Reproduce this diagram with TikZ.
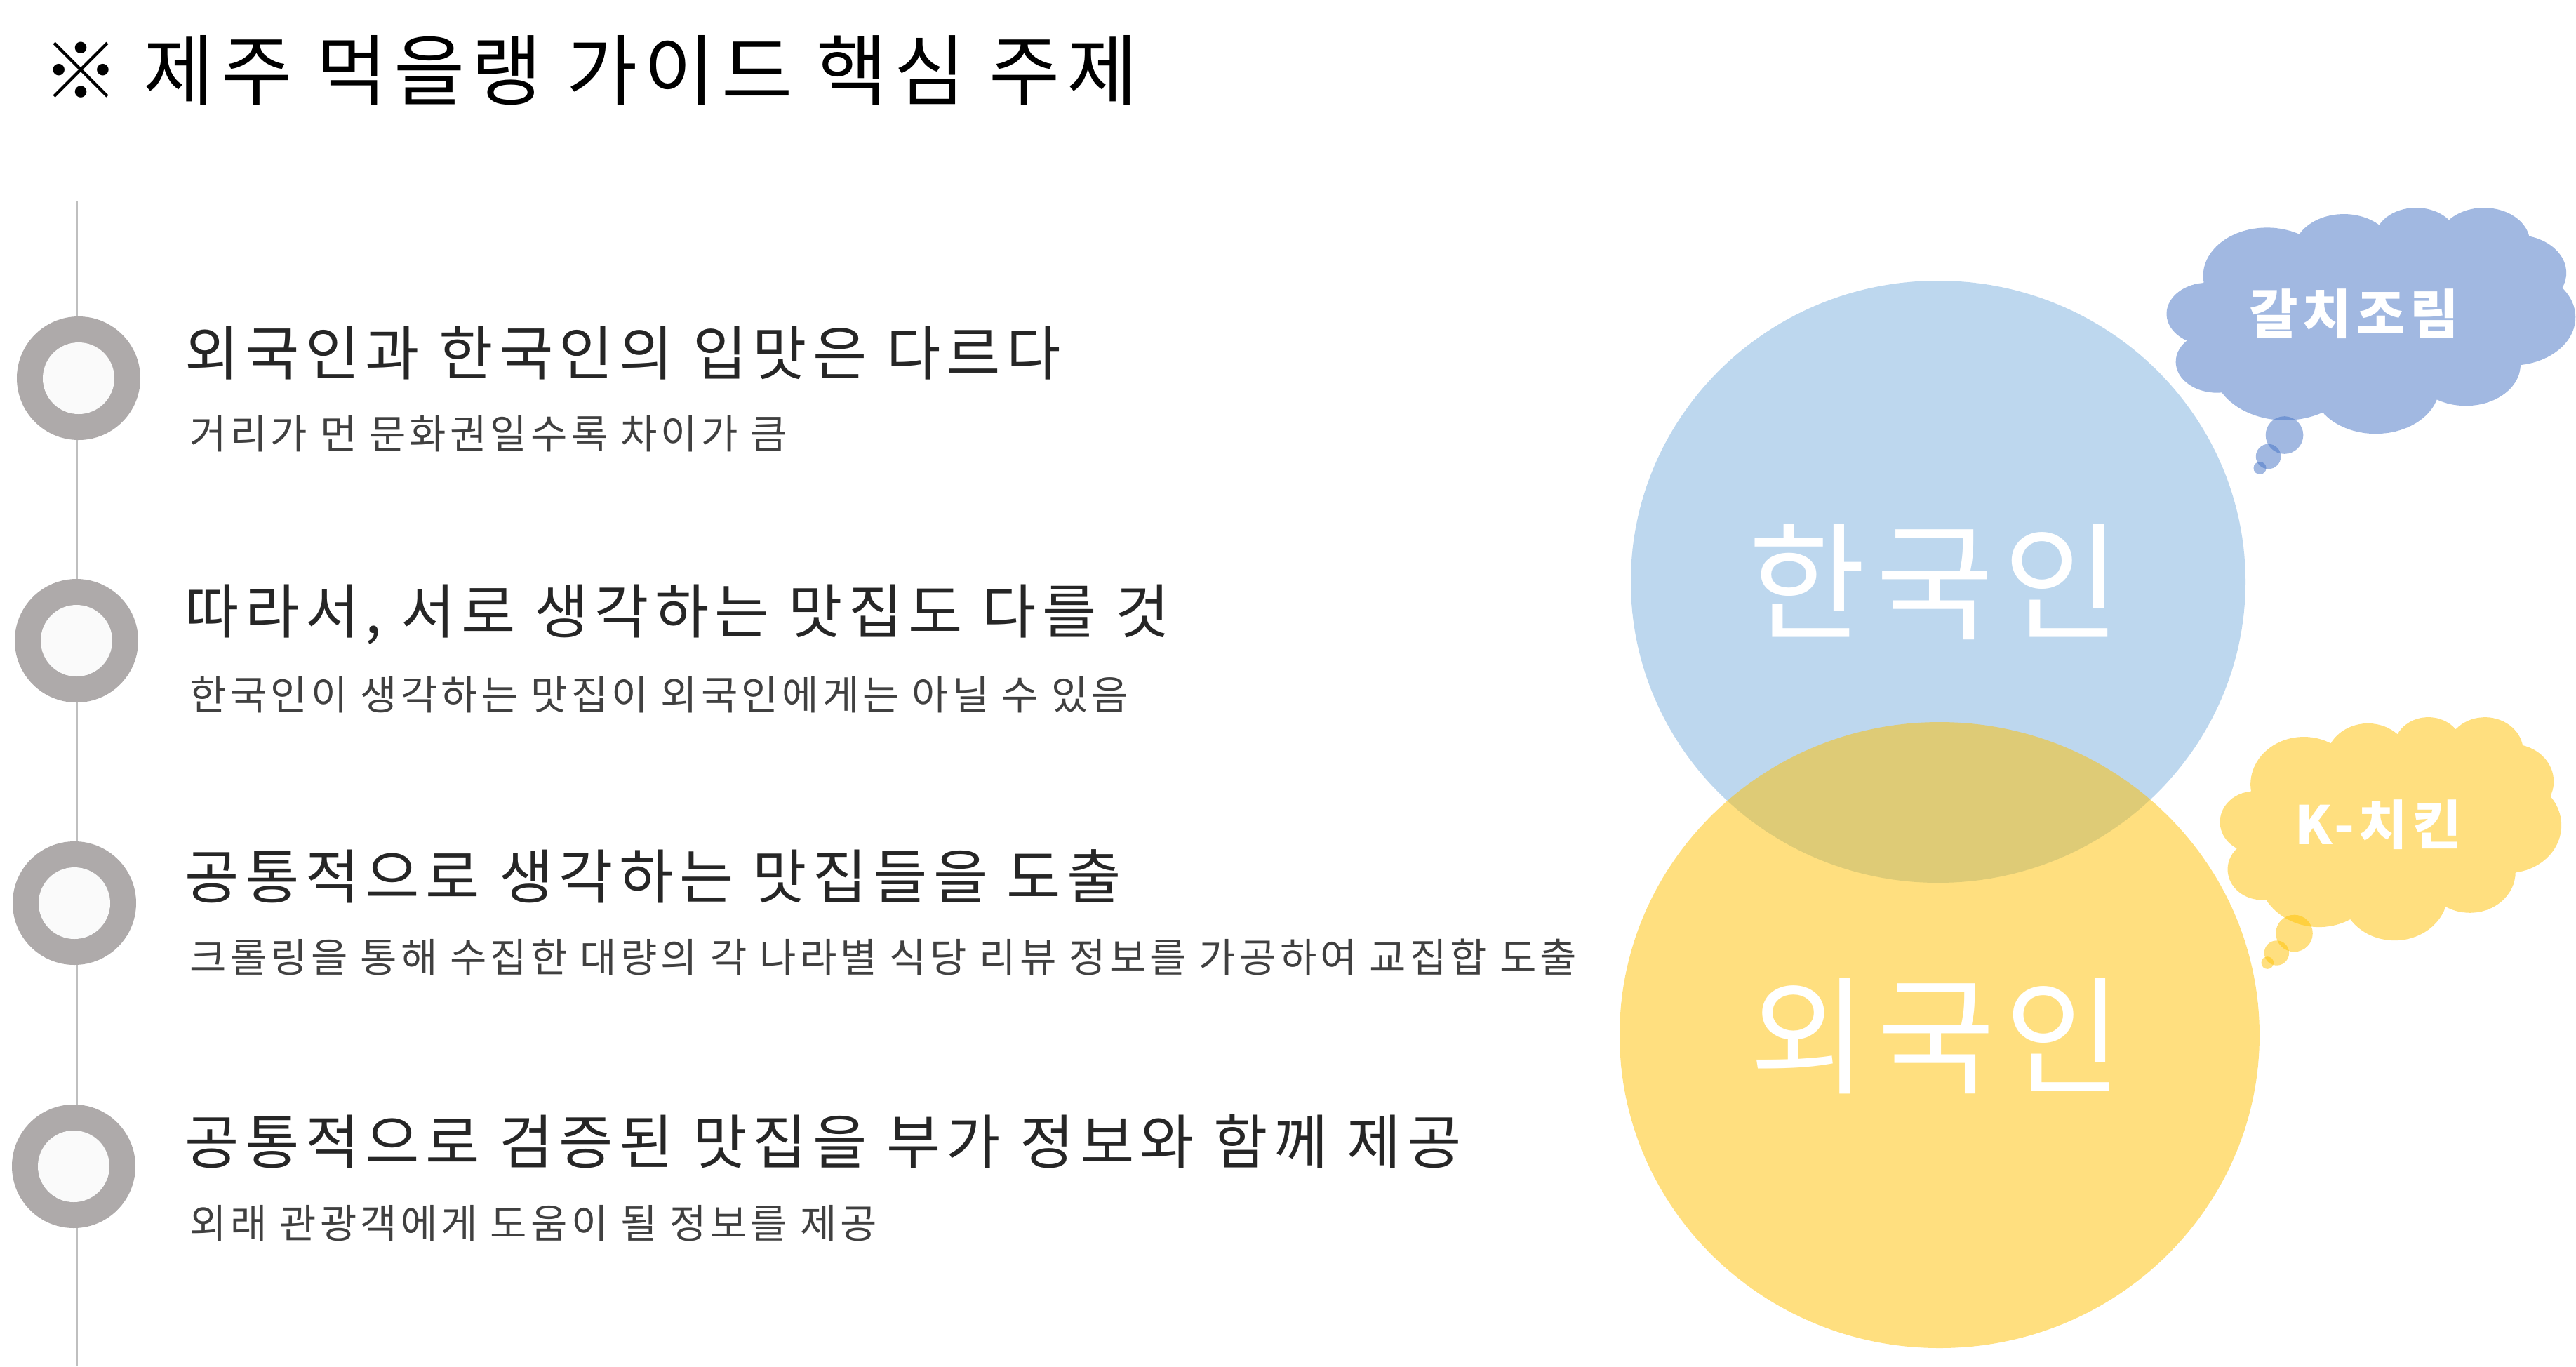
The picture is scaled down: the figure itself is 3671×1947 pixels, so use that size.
\documentclass[tikz,border=0pt]{standalone}
\usepackage{fontspec}
\setmainfont{Noto Sans CJK KR}
\newfontfamily\headfont[LetterSpace=10]{Noto Sans CJK KR}
\newfontfamily\subfont[LetterSpace=9]{Noto Sans CJK KR}
\newfontfamily\bigfont[LetterSpace=7.5]{Noto Sans CJK KR}
\newfontfamily\tspfont[LetterSpace=8.5]{Noto Sans CJK KR}
\newfontfamily\cspfont[LetterSpace=9]{Noto Sans CJK KR}
\definecolor{ringgray}{HTML}{AEAAAA}
\definecolor{ringin}{HTML}{FAFAFA}
\definecolor{linegray}{HTML}{BFBFBF}
\definecolor{headc}{HTML}{262626}
\definecolor{subc}{HTML}{404040}
\definecolor{bigblue}{HTML}{BDD7EE}
\definecolor{gold}{HTML}{FFC000}
\definecolor{cloudblue}{HTML}{4472C4}
% OOXML-style arcTo: wR hR stAng swAng (visual angles, y down)
\newcommand\cldarc[4]{arc[x radius=#1, y radius=#2,
  start angle={atan2((#1)*sin(#3),(#2)*cos(#3))},
  delta angle={Mod(atan2((#1)*sin((#3)+(#4)),(#2)*cos((#3)+(#4)))-atan2((#1)*sin(#3),(#2)*cos(#3)),360)}]}
\newcommand\cloudshape{(390,1437)
  \cldarc{675.3}{919.0}{-190.4875}{123.7805}
  \cldarc{533.3}{726.7}{-144.1024}{89.9452}
  \cldarc{436.5}{594.5}{-145.8079}{99.7230}
  \cldarc{485.7}{659.5}{-130.9861}{117.2417}
  \cldarc{533.3}{727.3}{-78.7089}{109.0269}
  \cldarc{677.5}{922.0}{-46.2673}{130.2690}
  \cldarc{578.5}{786.7}{0.6250}{114.0333}
  \cldarc{675.2}{921.5}{22.4516}{115.1726}
  \cldarc{772.0}{1054.3}{66.2426}{75.7110}
  \cldarc{436.0}{591.8}{-274.9421}{146.7356}
  \cldarc{434.5}{594.5}{-246.8285}{152.5189}
  -- cycle}
\begin{document}
\begin{tikzpicture}[x=0.01cm, y=-0.01cm,
  head/.style={anchor=west, inner sep=0pt, text=headc, font=\headfont\fontsize{23.9pt}{28pt}\selectfont},
  sub/.style={anchor=west, inner sep=0pt, text=subc, font=\subfont\fontsize{16.2pt}{19pt}\selectfont},
  big/.style={inner sep=0pt, text=white, font=\bigfont\fontsize{51.8pt}{60pt}\selectfont},
  cloudtxt/.style={inner sep=0pt, text=white, font=\cspfont\bfseries\fontsize{21.5pt}{25pt}\selectfont},
  blueshape/.style={fill=cloudblue, fill opacity=0.5},
  goldshape/.style={fill=gold, fill opacity=0.5}]
\useasboundingbox (0,0) rectangle (3671,1947);
% title
\node[anchor=west, inner sep=0pt, font=\tspfont\fontsize{31.3pt}{36pt}\selectfont] (title) at (60,100) {※ 제주 먹을랭 가이드 핵심 주제};
% timeline
\coordinate (ltop) at (109,286);
\coordinate (lbot) at (109,1947);
\draw[linegray, line width=0.03cm] (ltop) -- (lbot);
\foreach \n/\x/\y in {1/112/539, 2/109/913, 3/106/1287, 4/105/1662}{
  \fill[ringgray] (\x,\y) circle[radius=88];
  \fill[ringin] (\x,\y) circle[radius=51];
}
\node[head] (h1) at (263,503) {외국인과 한국인의 입맛은 다르다};
\node[sub]  (s1) at (270,618) {거리가 먼 문화권일수록 차이가 큼};
\node[head] (h2) at (263,876) {따라서, 서로 생각하는 맛집도 다를 것};
\node[sub]  (s2) at (270,990) {한국인이 생각하는 맛집이 외국인에게는 아닐 수 있음};
\node[head] (h3) at (263,1249) {공통적으로 생각하는 맛집들을 도출};
\node[sub]  (s3) at (270,1364) {크롤링을 통해 수집한 대량의 각 나라별 식당 리뷰 정보를 가공하여 교집합 도출};
\node[head] (h4) at (263,1627) {공통적으로 검증된 맛집을 부가 정보와 함께 제공};
\node[sub]  (s4) at (270,1743) {외래 관광객에게 도움이 될 정보를 제공};
% venn
\fill[bigblue] (2762,829) ellipse[x radius=438, y radius=429];
\fill[goldshape] (2764,1475) ellipse[x radius=456, y radius=446];
\node[big] (kor) at (2757,829) {한국인};
\node[big] (for) at (2759,1476) {외국인};
% blue cloud
\fill[blueshape, shift={(3088,295)}, xscale=582/4320, yscale=322/4320] \cloudshape;
\fill[blueshape] (3255.5,620) circle[radius=26.8];
\fill[blueshape] (3232.6,650.5) circle[radius=17.8];
\fill[blueshape] (3220.5,667) circle[radius=9];
\node[cloudtxt] (c1) at (3355,447) {갈치조림};
% gold cloud
\fill[goldshape, shift={(3164,1021)}, xscale=486/4320, yscale=318/4320] \cloudshape;
\fill[goldshape] (3269.5,1330) circle[radius=26.3];
\fill[goldshape] (3244.4,1358) circle[radius=17.7];
\fill[goldshape] (3231.3,1372) circle[radius=8.8];
\node[cloudtxt] (c2) at (3389,1175) {K-치킨};
\end{tikzpicture}
\end{document}
